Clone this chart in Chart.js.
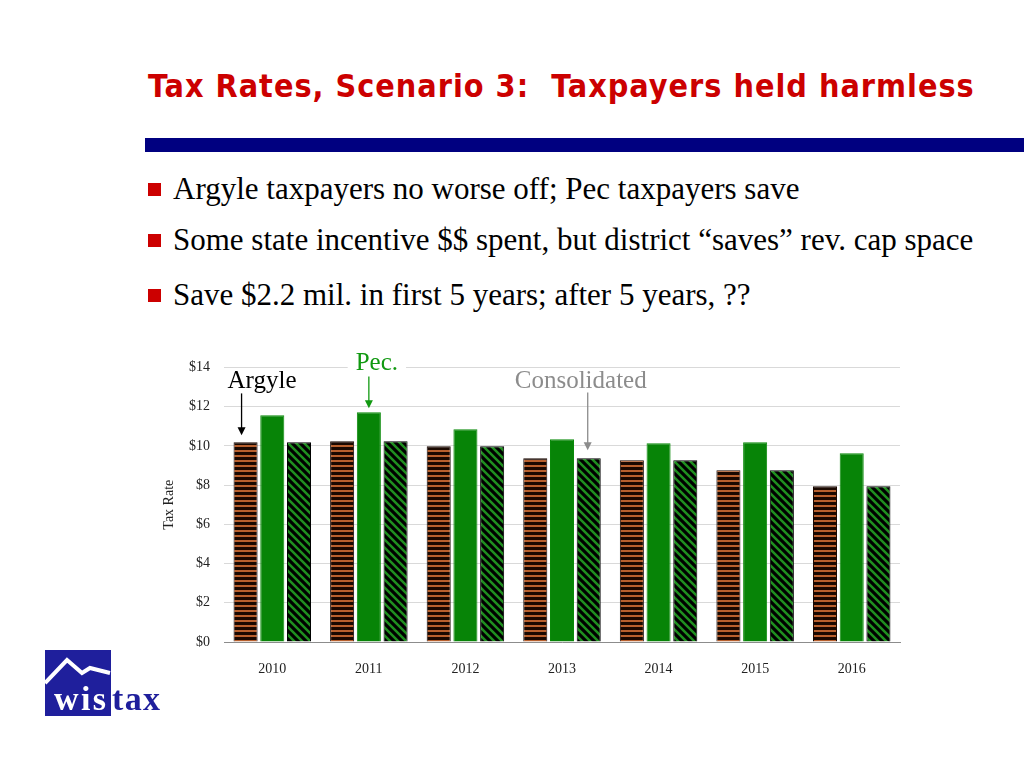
<!DOCTYPE html>
<html>
<head>
<meta charset="utf-8">
<script src="https://cdn.jsdelivr.net/npm/chart.js@4/dist/chart.umd.min.js"></script>
<style>
  body { margin: 0; width: 1024px; height: 768px; background: #fff; position: relative; overflow: hidden; }
  #title { position: absolute; left: 148px; top: 67px; font: bold 32px "DejaVu Sans Condensed", "DejaVu Sans", sans-serif; letter-spacing: 1px; color: #cc0000; white-space: nowrap; }
  #rule { position: absolute; left: 145px; top: 138px; width: 879px; height: 14px; background: #000080; }
  .bullet { position: absolute; left: 148px; font: 31px "Liberation Serif", "Times New Roman", serif; color: #000; white-space: nowrap; }
  .bullet span.sq { display: inline-block; width: 13px; height: 13px; background: #cc0000; margin-right: 12px; vertical-align: 3px; }
  #wrap { position: absolute; left: 150px; top: 345px; width: 760px; height: 345px; }
  #logo { position: absolute; left: 44px; top: 650px; }
</style>
</head>
<body>
<div id="title">Tax Rates, Scenario 3:&nbsp; Taxpayers held harmless</div>
<div id="rule"></div>
<div class="bullet" style="top:171px"><span class="sq"></span>Argyle taxpayers no worse off; Pec taxpayers save</div>
<div class="bullet" style="top:222px"><span class="sq"></span>Some state incentive $$ spent, but district “saves” rev. cap space</div>
<div class="bullet" style="top:277px"><span class="sq"></span>Save $2.2 mil. in first 5 years; after 5 years, ??</div>
<div id="wrap"><canvas id="taxChart"></canvas></div>
<svg id="logo" width="120" height="70" viewBox="0 0 120 70">
  <rect x="1" y="0" width="66" height="66" fill="#1f1f9c"/>
  <polyline points="1,33 23,10 38,23 46,18 66,23" fill="none" stroke="#fff" stroke-width="4"/>
  <text x="10" y="60" font-family="Liberation Serif, serif" font-weight="bold" font-size="34" fill="#fff" textLength="52">wis</text>
  <text x="68" y="60" font-family="Liberation Serif, serif" font-weight="bold" font-size="34" fill="#1f1f9c" textLength="48">tax</text>
</svg>
<script>
var years = ['2010', '2011', '2012', '2013', '2014', '2015', '2016'];
var argyleRates = [10.18, 10.23, 9.98, 9.37, 9.27, 8.76, 7.94];
var pecRates = [11.56, 11.71, 10.85, 10.34, 10.13, 10.18, 9.62];
var consolidatedRates = [10.18, 10.23, 9.98, 9.37, 9.27, 8.76, 7.94];
var yTicks = [0, 2, 4, 6, 8, 10, 12, 14];

function stripePattern() {
    var c = document.createElement('canvas');
    c.width = 8; c.height = 5;
    var g = c.getContext('2d');
    g.fillStyle = '#1a0800';
    g.fillRect(0, 0, 8, 5);
    g.fillStyle = '#b8602e';
    g.fillRect(0, 0, 8, 2);
    return g.createPattern(c, 'repeat');
}

function diagPattern() {
    var c = document.createElement('canvas');
    c.width = 8; c.height = 8;
    var g = c.getContext('2d');
    g.fillStyle = '#000';
    g.fillRect(0, 0, 8, 8);
    g.strokeStyle = '#1f8f1f';
    g.lineWidth = 2.5;
    g.beginPath();
    g.moveTo(-2, -2); g.lineTo(10, 10);
    g.moveTo(-6, 2); g.lineTo(6, 14);
    g.moveTo(2, -6); g.lineTo(14, 6);
    g.stroke();
    return g.createPattern(c, 'repeat');
}

function arrow(ctx, x, y1, y2, color) {
    ctx.save();
    ctx.strokeStyle = color;
    ctx.fillStyle = color;
    ctx.lineWidth = 1.3;
    ctx.beginPath();
    ctx.moveTo(x, y1);
    ctx.lineTo(x, y2 - 7);
    ctx.stroke();
    ctx.beginPath();
    ctx.moveTo(x - 4, y2 - 8);
    ctx.lineTo(x + 4, y2 - 8);
    ctx.lineTo(x, y2);
    ctx.closePath();
    ctx.fill();
    ctx.restore();
}

var labelPlugin = {
    id: 'labels',
    afterDatasetsDraw: function(chart) {
        var ctx = chart.ctx;
        var y = chart.scales.y;
        var top = y.getPixelForValue(14);
        var a = chart.getDatasetMeta(0).data[0];
        var p = chart.getDatasetMeta(1).data[1];
        var c = chart.getDatasetMeta(2).data[3];
        ctx.save();
        ctx.font = '25px "Liberation Serif", "Times New Roman", serif';
        ctx.textBaseline = 'alphabetic';
        // Argyle
        ctx.fillStyle = '#000';
        ctx.textAlign = 'left';
        ctx.fillText('Argyle', a.x - 18, top + 21);
        arrow(ctx, a.x - 4, top + 26, a.y - 7, '#000');
        // Pec.
        ctx.textAlign = 'center';
        var pw = ctx.measureText('Pec.').width;
        ctx.fillStyle = '#fff';
        ctx.fillRect(p.x + 8 - pw / 2 - 8, top - 16, pw + 16, 22);
        ctx.fillStyle = '#119911';
        ctx.fillText('Pec.', p.x + 8, top + 3);
        arrow(ctx, p.x, top + 9, p.y - 4, '#119911');
        // Consolidated
        ctx.fillStyle = '#8c8c8c';
        ctx.fillText('Consolidated', c.x - 8, top + 21);
        arrow(ctx, c.x - 1, top + 25, c.y - 8, '#8c8c8c');
        ctx.restore();
    }
};

var taxCtx = document.getElementById('taxChart').getContext('2d');
var taxChart = new Chart(taxCtx, {
    type: 'bar',
    data: {
        labels: years,
        datasets: [{
            label: 'Argyle',
            data: argyleRates,
            backgroundColor: stripePattern(),
            borderColor: '#1a0800',
            borderWidth: 1
        }, {
            label: 'Pec',
            data: pecRates,
            backgroundColor: '#078407',
            borderColor: '#0a8a0a',
            borderWidth: 1
        }, {
            label: 'Consolidated',
            data: consolidatedRates,
            backgroundColor: diagPattern(),
            borderColor: '#000',
            borderWidth: 1
        }]
    },
    options: {
        responsive: true,
        maintainAspectRatio: false,
        animation: false,
        categoryPercentage: 0.83,
        barPercentage: 0.9,
        layout: { padding: { top: 22, right: 10, left: 11, bottom: 0 } },
        plugins: {
            legend: { display: false },
            tooltip: { enabled: false }
        },
        scales: {
            x: {
                grid: { display: false },
                border: { color: '#8c8c8c' },
                ticks: {
                    color: '#222',
                    padding: 11,
                    font: { family: '"Liberation Serif", "Times New Roman", serif', size: 14 }
                },
                afterFit: function(s) { s.height = 48; }
            },
            y: {
                min: 0,
                max: 14,
                afterBuildTicks: function(s) { s.ticks = yTicks.map(function(v) { return { value: v }; }); },
                grid: { color: '#d9d9d9', drawTicks: false },
                border: { display: false },
                ticks: {
                    color: '#222',
                    padding: 14,
                    font: { family: '"Liberation Serif", "Times New Roman", serif', size: 14 },
                    callback: function(v) { return '$' + v; }
                },
                title: {
                    display: true,
                    text: 'Tax Rate',
                    color: '#222',
                    padding: 0,
                    font: { family: '"Liberation Serif", "Times New Roman", serif', size: 14 }
                },
                afterFit: function(s) { s.width = 63; }
            }
        }
    },
    plugins: [labelPlugin]
});
</script>
</body>
</html>
